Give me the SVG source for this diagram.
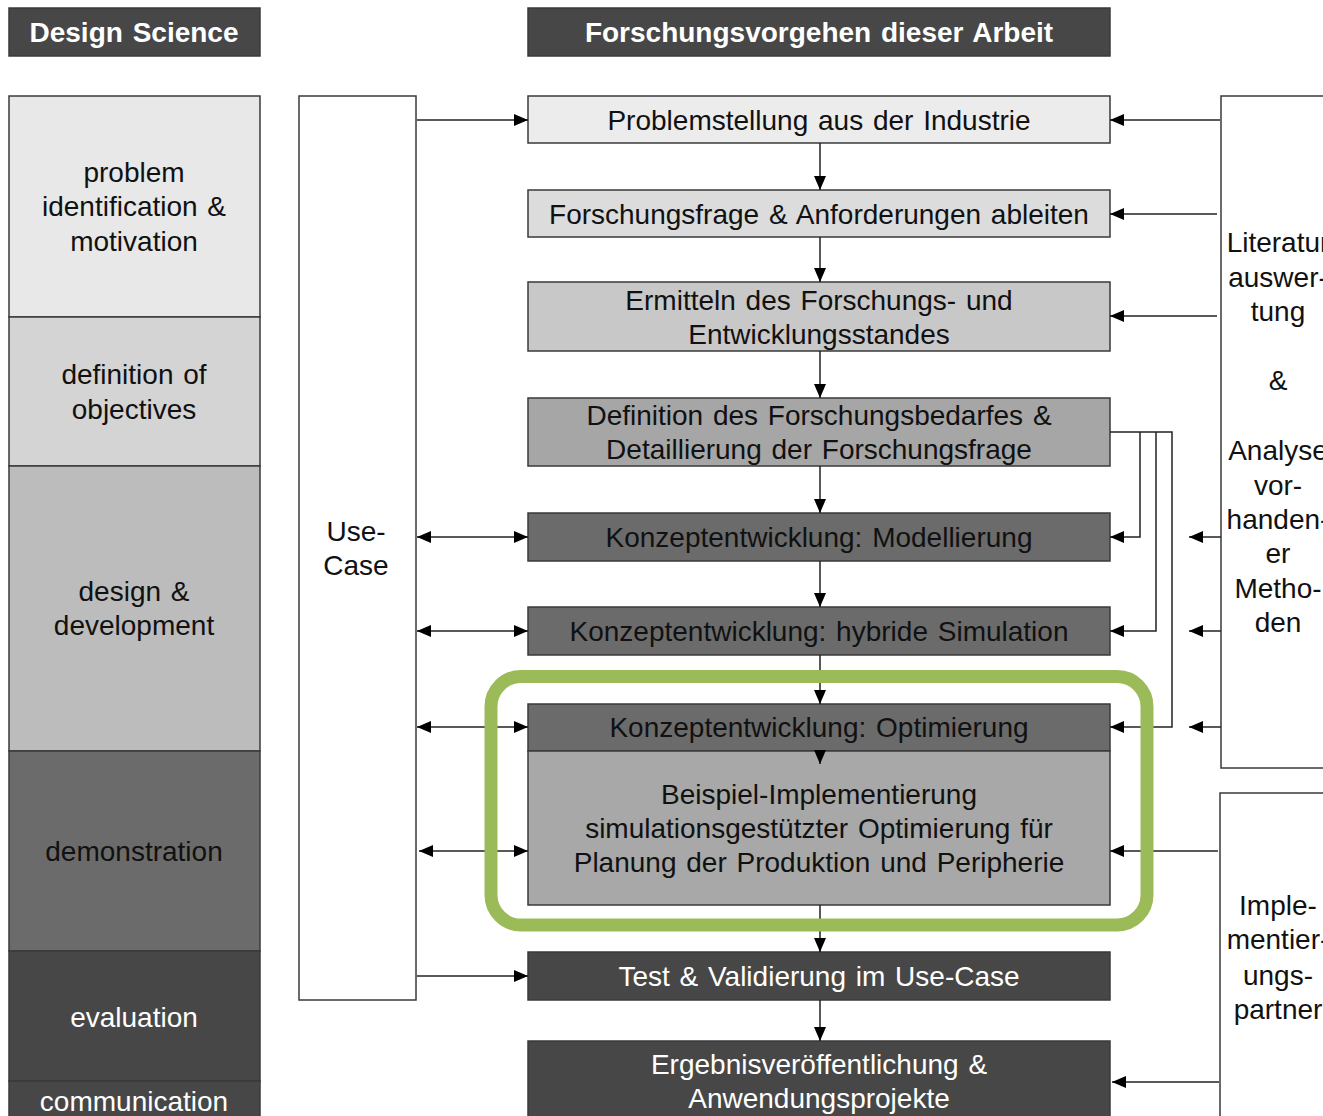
<svg xmlns="http://www.w3.org/2000/svg" width="1323" height="1116" viewBox="0 0 1323 1116">
<style>
.t{font-family:"Liberation Sans",Arial,sans-serif;font-size:28px;text-anchor:middle;dominant-baseline:central;fill:#111;word-spacing:2px}
.w{fill:#fff}
.h{font-weight:bold;font-size:28px;fill:#fff;word-spacing:2px}
.b{stroke:#3a3a3a;stroke-width:1.5}
.c{stroke:#222;stroke-width:1.5;fill:none}
</style>
<defs>
<marker id="ah" markerUnits="userSpaceOnUse" markerWidth="14" markerHeight="12" refX="14" refY="6" orient="auto-start-reverse">
<path d="M0,0 L14,6 L0,12 z" fill="#000"/>
</marker>
</defs>
<rect width="1323" height="1116" fill="#fff"/>

<g id="hdr-ds"><rect class="b" x="9" y="8" width="251" height="48" fill="#474747"/><text class="t h" x="134" y="32">Design Science</text></g>
<g id="hdr-fv"><rect class="b" x="528" y="8" width="582" height="48" fill="#474747"/><text class="t h" x="819" y="32">Forschungsvorgehen dieser Arbeit</text></g>

<g id="ds-1"><rect class="b" x="9" y="96" width="251" height="221" fill="#e8e8e8"/><text class="t" x="134" y="172">problem</text><text class="t" x="134" y="206">identification &amp;</text><text class="t" x="134" y="241">motivation</text></g>
<g id="ds-2"><rect class="b" x="9" y="317" width="251" height="149" fill="#d4d4d4"/><text class="t" x="134" y="374">definition of</text><text class="t" x="134" y="409">objectives</text></g>
<g id="ds-3"><rect class="b" x="9" y="466" width="251" height="285" fill="#bcbcbc"/><text class="t" x="134" y="591">design &amp;</text><text class="t" x="134" y="625">development</text></g>
<g id="ds-4"><rect class="b" x="9" y="751" width="251" height="200" fill="#6b6b6b"/><text class="t" x="134" y="851">demonstration</text></g>
<g id="ds-5"><rect class="b" x="9" y="951" width="251" height="130" fill="#474747"/><text class="t w" x="134" y="1017">evaluation</text></g>
<g id="ds-6"><rect class="b" x="9" y="1081" width="251" height="45" fill="#474747"/><text class="t w" x="134" y="1101">communication</text></g>

<g id="usecase"><rect class="b" x="299" y="96" width="117" height="904" fill="#fff"/><text class="t" x="356" y="531">Use-</text><text class="t" x="356" y="565">Case</text></g>

<g id="n1"><rect class="b" x="528" y="96" width="582" height="47" fill="#ececec"/><text class="t" x="819" y="120">Problemstellung aus der Industrie</text></g>
<g id="n2"><rect class="b" x="528" y="190" width="582" height="47" fill="#dcdcdc"/><text class="t" x="819" y="214">Forschungsfrage &amp; Anforderungen ableiten</text></g>
<g id="n3"><rect class="b" x="528" y="282" width="582" height="69" fill="#c8c8c8"/><text class="t" x="819" y="300">Ermitteln des Forschungs- und</text><text class="t" x="819" y="334">Entwicklungsstandes</text></g>
<g id="n4"><rect class="b" x="528" y="398" width="582" height="68" fill="#a6a6a6"/><text class="t" x="819" y="415">Definition des Forschungsbedarfes &amp;</text><text class="t" x="819" y="449">Detaillierung der Forschungsfrage</text></g>
<g id="n5"><rect class="b" x="528" y="513" width="582" height="48" fill="#6b6b6b"/><text class="t" x="819" y="537">Konzeptentwicklung:  Modellierung</text></g>
<g id="n6"><rect class="b" x="528" y="607" width="582" height="48" fill="#6b6b6b"/><text class="t" x="819" y="631">Konzeptentwicklung:  hybride Simulation</text></g>
<g id="n7"><rect class="b" x="528" y="704" width="582" height="47" fill="#6b6b6b"/><text class="t" x="819" y="727">Konzeptentwicklung:  Optimierung</text></g>
<g id="n8"><rect class="b" x="528" y="751" width="582" height="154" fill="#a8a8a8"/><text class="t" x="819" y="794">Beispiel-Implementierung</text><text class="t" x="819" y="828">simulationsgestützter Optimierung für</text><text class="t" x="819" y="862">Planung der Produktion und Peripherie</text></g>
<g id="n9"><rect class="b" x="528" y="952" width="582" height="48" fill="#474747"/><text class="t w" x="819" y="976">Test &amp; Validierung im Use-Case</text></g>
<g id="n10"><rect class="b" x="528" y="1041" width="582" height="85" fill="#474747"/><text class="t w" x="819" y="1064">Ergebnisveröffentlichung &amp;</text><text class="t w" x="819" y="1098">Anwendungsprojekte</text></g>

<g id="lit"><rect class="b" x="1221" y="96" width="120" height="672" fill="#fff"/>
<text class="t" x="1278" y="242">Literatur</text><text class="t" x="1278" y="277">auswer-</text><text class="t" x="1278" y="311">tung</text><text class="t" x="1278" y="380">&amp;</text><text class="t" x="1278" y="450">Analyse</text><text class="t" x="1278" y="485">vor-</text><text class="t" x="1278" y="519">handen-</text><text class="t" x="1278" y="553">er</text><text class="t" x="1278" y="588">Metho-</text><text class="t" x="1278" y="622">den</text></g>
<g id="impl"><rect class="b" x="1220" y="793" width="120" height="340" fill="#fff"/>
<text class="t" x="1278" y="905">Imple-</text><text class="t" x="1278" y="939">mentier-</text><text class="t" x="1278" y="975">ungs-</text><text class="t" x="1278" y="1009">partner</text></g>

<g id="connectors">
<line class="c" x1="820" y1="143" x2="820" y2="190" marker-end="url(#ah)"/>
<line class="c" x1="820" y1="237" x2="820" y2="282" marker-end="url(#ah)"/>
<line class="c" x1="820" y1="351" x2="820" y2="398" marker-end="url(#ah)"/>
<line class="c" x1="820" y1="466" x2="820" y2="513" marker-end="url(#ah)"/>
<line class="c" x1="820" y1="561" x2="820" y2="607" marker-end="url(#ah)"/>
<line class="c" x1="820" y1="655" x2="820" y2="704" marker-end="url(#ah)"/>
<line class="c" x1="820" y1="751" x2="820" y2="764" marker-end="url(#ah)"/>
<line class="c" x1="820" y1="905" x2="820" y2="952" marker-end="url(#ah)"/>
<line class="c" x1="820" y1="1000" x2="820" y2="1041" marker-end="url(#ah)"/>

<line class="c" x1="417" y1="120" x2="528" y2="120" marker-end="url(#ah)"/>
<line class="c" x1="417" y1="537" x2="528" y2="537" marker-start="url(#ah)" marker-end="url(#ah)"/>
<line class="c" x1="417" y1="631" x2="528" y2="631" marker-start="url(#ah)" marker-end="url(#ah)"/>
<line class="c" x1="417" y1="727" x2="528" y2="727" marker-start="url(#ah)" marker-end="url(#ah)"/>
<line class="c" x1="419" y1="851" x2="528" y2="851" marker-start="url(#ah)" marker-end="url(#ah)"/>
<line class="c" x1="417" y1="976" x2="528" y2="976" marker-end="url(#ah)"/>

<line class="c" x1="1220" y1="120" x2="1110" y2="120" marker-end="url(#ah)"/>
<line class="c" x1="1217" y1="214" x2="1110" y2="214" marker-end="url(#ah)"/>
<line class="c" x1="1217" y1="316" x2="1110" y2="316" marker-end="url(#ah)"/>
<line class="c" x1="1221" y1="537" x2="1189" y2="537" marker-end="url(#ah)"/>
<line class="c" x1="1221" y1="631" x2="1189" y2="631" marker-end="url(#ah)"/>
<line class="c" x1="1221" y1="727" x2="1189" y2="727" marker-end="url(#ah)"/>
<line class="c" x1="1218" y1="851" x2="1110" y2="851" marker-end="url(#ah)"/>
<line class="c" x1="1219" y1="1082" x2="1112" y2="1082" marker-end="url(#ah)"/>

<polyline class="c" points="1110,432 1172,432 1172,727 1110,727" marker-end="url(#ah)"/>
<polyline class="c" points="1156,432 1156,631 1110,631" marker-end="url(#ah)"/>
<polyline class="c" points="1140,432 1140,537 1110,537" marker-end="url(#ah)"/>
</g>

<g id="highlight"><rect x="491" y="676.5" width="656" height="248.5" rx="30" fill="none" stroke="#9bbb59" stroke-width="13"/></g>
</svg>
